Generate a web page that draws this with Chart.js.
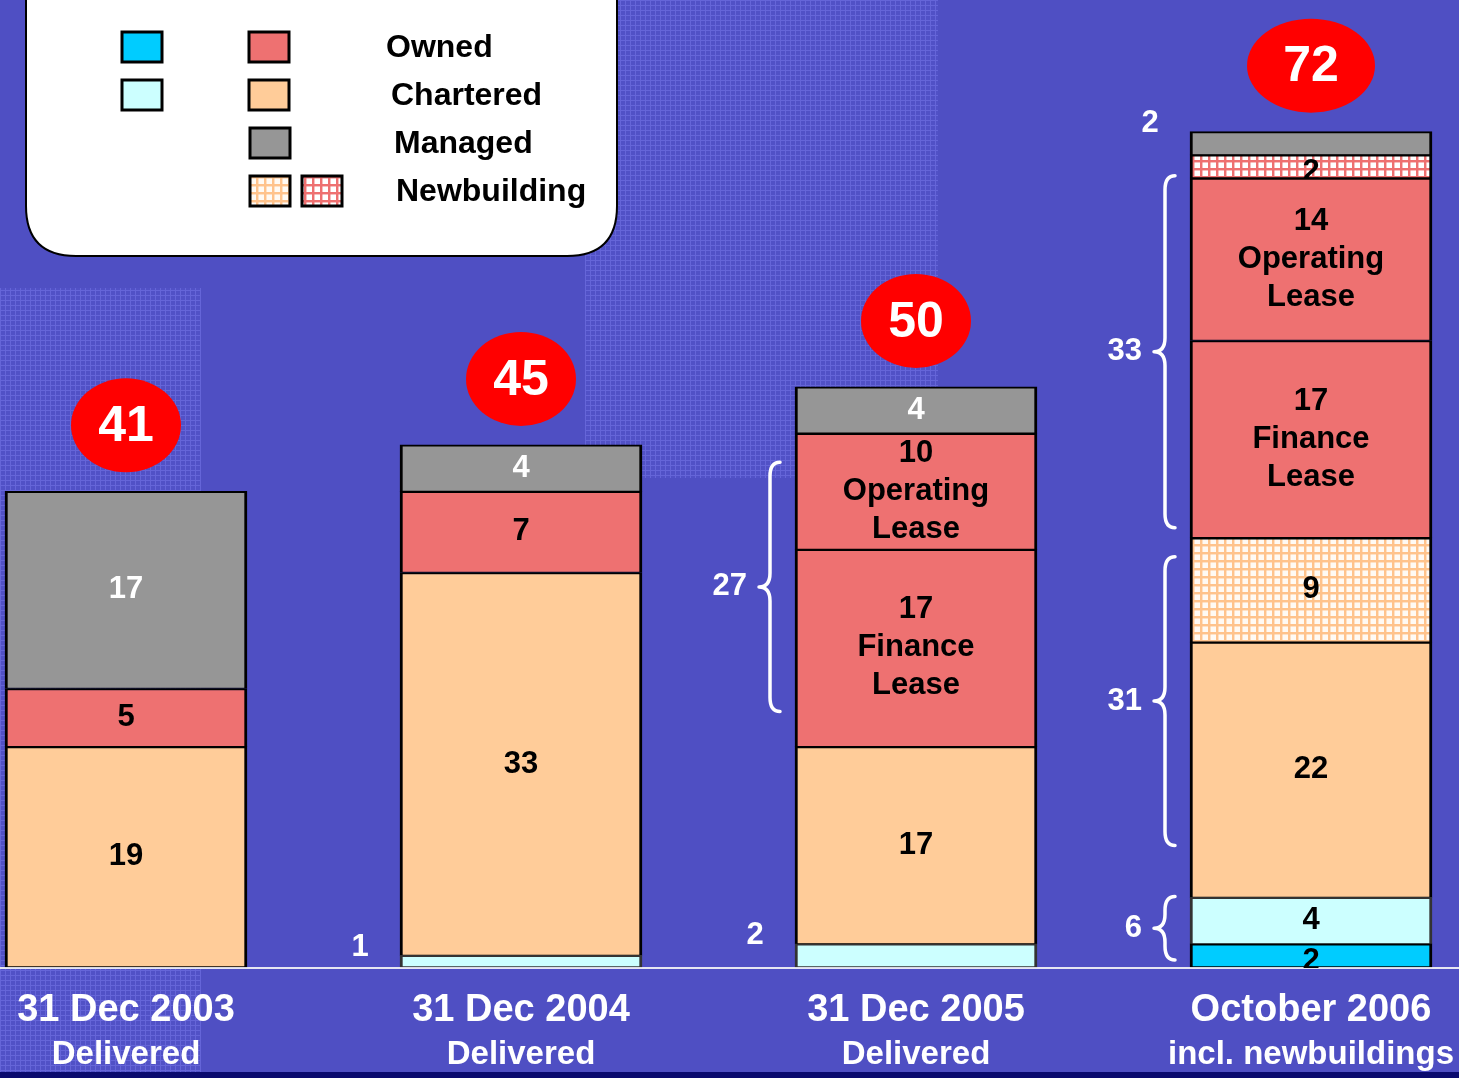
<!DOCTYPE html>
<html><head><meta charset="utf-8">
<script src="https://cdn.jsdelivr.net/npm/chart.js@4.4.1/dist/chart.umd.min.js"></script>
<style>html,body{margin:0;padding:0;background:#4F4FC3;overflow:hidden}#wrap{width:1459px;height:1078px;position:relative}</style>
</head><body><div id="wrap"><canvas id="c"></canvas></div>
<script>
// ---------- data ----------
const categories = [['31 Dec 2003','Delivered'],['31 Dec 2004','Delivered'],['31 Dec 2005','Delivered'],['October 2006','incl. newbuildings']];
const ownedCyan      = [0, 0, 0, 2];
const charteredCyan  = [0, 1, 2, 4];
const chartered      = [19, 33, 17, 22];
const charteredNB    = [0, 0, 0, 9];
const ownedFinance   = [5, 7, 17, 17];
const ownedOperating = [0, 0, 10, 14];
const ownedNB        = [0, 0, 0, 2];
const managed        = [17, 4, 4, 2];
const financeNote    = ['', '', 'Finance\nLease', 'Finance\nLease'];
const operatingNote  = ['', '', 'Operating\nLease', 'Operating\nLease'];
const legendLabels   = ['Owned', 'Chartered', 'Managed', 'Newbuilding'];

// ---------- styles ----------
const FONT = '"Liberation Sans", Arial, Helvetica, sans-serif';
const W = 1459, H = 1078;
function gridPattern(line, cell) {
  const t = document.createElement('canvas'); t.width = 8; t.height = 8;
  const g = t.getContext('2d');
  g.fillStyle = cell; g.fillRect(0, 0, 8, 8);
  g.fillStyle = line; g.fillRect(0, 0, 8, 2); g.fillRect(0, 0, 2, 8);
  g.globalAlpha = 0.45; g.fillRect(0, 2, 8, 1); g.fillRect(2, 0, 1, 8);
  return g.createPattern(t, 'repeat');
}
function texPattern() {
  const t = document.createElement('canvas'); t.width = 5; t.height = 5;
  const g = t.getContext('2d');
  g.fillStyle = '#5151C6'; g.fillRect(0, 0, 5, 5);
  g.fillStyle = '#6565D8'; g.fillRect(0, 0, 5, 1); g.fillRect(0, 0, 1, 5);
  return g.createPattern(t, 'repeat');
}
const patPeach = gridPattern('#FFC38C', '#FFFAF4');
const patRed = gridPattern('#EE7070', '#FFFFFF');
const patTex = texPattern();

const dsDefs = [
  { label: 'Owned', data: ownedCyan, bg: '#00CCFF', border: '#000' },
  { label: 'Chartered', data: charteredCyan, bg: '#CCFFFF', border: '#333' },
  { label: 'Chartered', data: chartered, bg: '#FFCC99', border: '#000' },
  { label: 'Chartered newbuilding', data: charteredNB, bg: patPeach, border: '#000' },
  { label: 'Owned (finance lease)', data: ownedFinance, bg: '#EE7171', border: '#000', notes: financeNote },
  { label: 'Owned (operating lease)', data: ownedOperating, bg: '#EE7171', border: '#000', notes: operatingNote },
  { label: 'Owned newbuilding', data: ownedNB, bg: patRed, border: '#000' },
  { label: 'Managed', data: managed, bg: '#969696', border: '#000', text: '#FFFFFF' },
];
// labels placed outside (left of) the bar: [dataset, category]
const outsideLabels = [[1, 1], [1, 2], [7, 3]];
// braces: category, datasets grouped, top/bottom inset px
const braces = [
  { cat: 2, sets: [4, 5], inset: [29, 35] },
  { cat: 3, sets: [4, 5, 6], inset: [21, 10] },
  { cat: 3, sets: [2, 3], inset: [19, 52] },
  { cat: 3, sets: [0, 1], inset: [-1, 7] },
];
const ellipseRx = [55, 55, 55, 64];

const totals = categories.map((_, i) => dsDefs.reduce((s, d) => s + d.data[i], 0));

// ---------- plugins ----------
const bgPlugin = {
  id: 'bg',
  beforeDraw(chart) {
    const ctx = chart.ctx;
    ctx.save();
    ctx.fillStyle = '#4F4FC3'; ctx.fillRect(0, 0, W, H);
    ctx.fillStyle = patTex;
    ctx.fillRect(0, 288, 201, 790);
    ctx.fillRect(585, 0, 353, 478);
    ctx.fillStyle = '#0A0A6E'; ctx.fillRect(0, 1072, W, 6);
    // legend box
    const x0 = 26, x1 = 617, y0 = -60, y1 = 256, r = 50;
    ctx.beginPath();
    ctx.moveTo(x0, y0); ctx.lineTo(x1, y0); ctx.lineTo(x1, y1 - r);
    ctx.quadraticCurveTo(x1, y1, x1 - r, y1);
    ctx.lineTo(x0 + r, y1); ctx.quadraticCurveTo(x0, y1, x0, y1 - r); ctx.closePath();
    ctx.fillStyle = '#FFFFFF'; ctx.fill();
    ctx.lineWidth = 2; ctx.strokeStyle = '#000'; ctx.stroke();
    const sw = (x, y, fill) => {
      ctx.fillStyle = fill; ctx.fillRect(x, y, 42, 32);
      ctx.lineWidth = 3; ctx.strokeStyle = '#000'; ctx.strokeRect(x + 1, y + 1, 40, 30);
    };
    sw(121, 31, '#00CCFF'); sw(121, 79, '#CCFFFF');
    sw(248, 31, '#EE7171'); sw(248, 79, '#FFCC99'); sw(249, 127, '#969696');
    sw(249, 175, patPeach); sw(301, 175, patRed);
    ctx.fillStyle = '#000'; ctx.font = 'bold 32px ' + FONT;
    ctx.textAlign = 'left'; ctx.textBaseline = 'alphabetic';
    const lx = [386, 391, 394, 396], ly = [57, 105, 153, 201];
    legendLabels.forEach((t, k) => ctx.fillText(t, lx[k], ly[k]));
    // baseline
    ctx.fillStyle = '#E6E6F2'; ctx.fillRect(0, 967, W, 2);
    ctx.restore();
  }
};

function drawBrace(ctx, xr, y1, y2) {
  const xs = xr - 10, xt = xr - 21, mid = (y1 + y2) / 2, c = Math.min(14, (y2 - y1) / 4);
  ctx.beginPath();
  ctx.moveTo(xr, y1);
  ctx.quadraticCurveTo(xs, y1, xs, y1 + c);
  ctx.lineTo(xs, mid - c);
  ctx.quadraticCurveTo(xs, mid, xt, mid);
  ctx.quadraticCurveTo(xs, mid, xs, mid + c);
  ctx.lineTo(xs, y2 - c);
  ctx.quadraticCurveTo(xs, y2, xr, y2);
  ctx.stroke();
  return { tip: xt, mid };
}

const labelPlugin = {
  id: 'labels',
  afterDatasetsDraw(chart) {
    const ctx = chart.ctx, ys = chart.scales.y, xs = chart.scales.x;
    ctx.save();
    ctx.textAlign = 'center'; ctx.textBaseline = 'middle';
    // segment labels
    dsDefs.forEach((d, di) => {
      const meta = chart.getDatasetMeta(di);
      d.data.forEach((v, i) => {
        if (!v) return;
        const el = meta.data[i];
        const top = Math.min(el.y, el.base), bot = Math.max(el.y, el.base);
        const out = outsideLabels.some(p => p[0] === di && p[1] === i);
        ctx.font = 'bold 31px ' + FONT;
        if (out) {
          ctx.fillStyle = '#FFFFFF';
          ctx.fillText(String(v), el.x - el.width / 2 - 40, top - 8);
          return;
        }
        const lines = [String(v)];
        if (d.notes && d.notes[i]) lines.push(...d.notes[i].split('\n'));
        const lh = 38, cy = (top + bot) / 2 + (bot - top < 30 ? 6 : 0);
        ctx.fillStyle = d.text || '#000';
        ctx.save();
        ctx.beginPath(); ctx.rect(el.x - el.width / 2, top, el.width, bot - top + 1); ctx.clip();
        lines.forEach((t, k) => ctx.fillText(t, el.x, cy + (k - (lines.length - 1) / 2) * lh));
        ctx.restore();
      });
    });
    // braces
    ctx.strokeStyle = '#FFFFFF'; ctx.lineWidth = 3.5; ctx.lineCap = 'round'; ctx.lineJoin = 'round';
    braces.forEach(b => {
      const els = b.sets.map(s => chart.getDatasetMeta(s).data[b.cat]).filter(Boolean);
      const val = b.sets.reduce((s, k) => s + dsDefs[k].data[b.cat], 0);
      const el0 = els[0];
      const yTop = Math.min(...els.map(e => Math.min(e.y, e.base)));
      const yBot = Math.max(...els.map(e => Math.max(e.y, e.base)));
      const xr = el0.x - el0.width / 2 - 15;
      const r = drawBrace(ctx, xr, yTop + b.inset[0], yBot - b.inset[1]);
      ctx.fillStyle = '#FFFFFF'; ctx.font = 'bold 31px ' + FONT; ctx.textAlign = 'right';
      ctx.fillText(String(val), r.tip - 12, r.mid);
    });
    // totals in red ellipses
    ctx.textAlign = 'center';
    totals.forEach((t, i) => {
      const x = xs.getPixelForValue(i), top = ys.getPixelForValue(t);
      const cy = top - 66;
      ctx.beginPath(); ctx.ellipse(x, cy, ellipseRx[i], 47, 0, 0, Math.PI * 2);
      ctx.fillStyle = '#FF0000'; ctx.fill();
      ctx.fillStyle = '#FFFFFF'; ctx.font = 'bold 50px ' + FONT;
      ctx.fillText(String(t), x, cy + 2);
    });
    // category labels
    ctx.fillStyle = '#FFFFFF'; ctx.textBaseline = 'alphabetic';
    categories.forEach((c, i) => {
      const x = xs.getPixelForValue(i);
      ctx.font = 'bold 38px ' + FONT; ctx.fillText(c[0], x, 1021);
      ctx.font = 'bold 33px ' + FONT; ctx.fillText(c[1], x, 1064);
    });
    ctx.restore();
  }
};

new Chart(document.getElementById('c'), {
  type: 'bar',
  data: {
    labels: categories,
    datasets: dsDefs.map(d => ({
      label: d.label,
      data: d.data.map(v => v || null),
      backgroundColor: d.bg,
      borderColor: d.border,
      borderWidth: { top: 2, right: 3, bottom: 1, left: 3 },
      borderSkipped: false,
      barThickness: 242,
      clip: false,
      stack: 'fleet'
    }))
  },
  options: {
    responsive: true, maintainAspectRatio: false, animation: false,
    devicePixelRatio: 1,
    layout: { padding: { left: 126, right: 148, top: 4, bottom: 111 } },
    plugins: { legend: { display: false }, tooltip: { enabled: false } },
    scales: {
      x: { type: 'category', offset: false, stacked: true, display: false },
      y: { stacked: true, min: 0, max: 83, display: false }
    }
  },
  plugins: [bgPlugin, labelPlugin]
});
</script></body></html>
